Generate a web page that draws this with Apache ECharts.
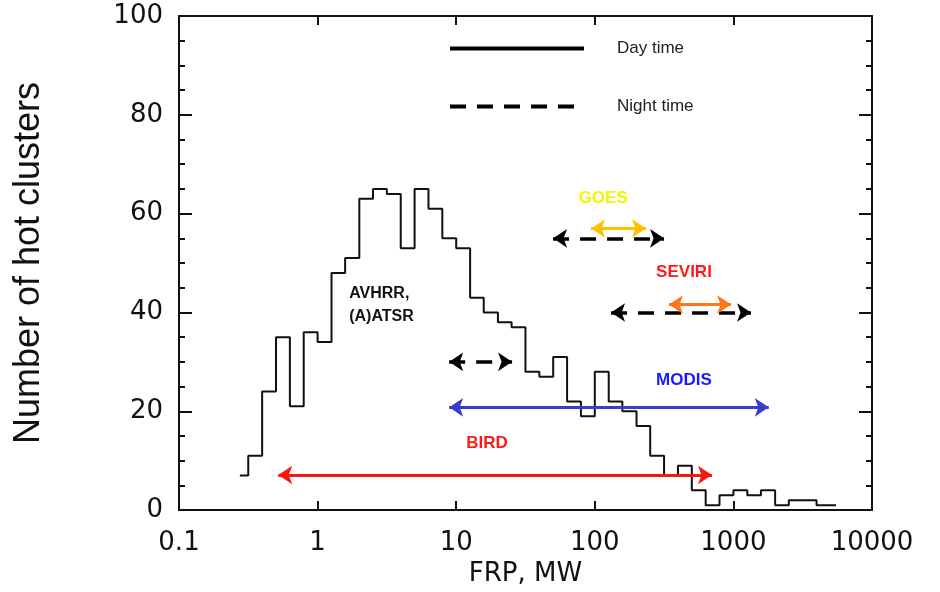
<!DOCTYPE html>
<html>
<head>
<meta charset="utf-8">
<script src="https://cdn.jsdelivr.net/npm/echarts@6/dist/echarts.min.js"></script>
<style>
  html, body { margin: 0; padding: 0; background: #fff; }
  #chart { width: 940px; height: 592px; }
</style>
</head>
<body>
<div id="chart"></div>
<script>
// histogram of hot clusters: left bin edges (MW) + last right edge, counts per bin
const binEdges = [0.275, 0.316, 0.398, 0.501, 0.631, 0.794, 1.00, 1.26, 1.58, 2.00, 2.51, 3.16, 3.98, 5.01, 6.31, 7.94,
    10.0, 12.6, 15.8, 20.0, 25.1, 31.6, 39.8, 50.1, 63.1, 79.4, 100, 126, 158, 200, 251, 316, 398, 501, 631, 794,
    1000, 1260, 1580, 2000, 2510, 3980, 5500];
const counts = [7, 11, 24, 35, 21, 36, 34, 48, 51, 63, 65, 64, 53, 65, 61, 55, 53, 43, 40, 38, 37, 28, 27, 31, 22, 19,
    28, 22, 20, 17, 11, 7, 9, 4, 1, 3, 4, 3, 4, 1, 2, 1];

// sensor detection ranges (MW), drawn as arrows at a given count level
const rangeSensor = ['GOES', 'GOES', 'SEVIRI', 'SEVIRI', 'AVHRR', 'MODIS', 'BIRD'];
const rangeTime = ['day', 'night', 'day', 'night', 'night', 'day', 'day'];
const rangeFrom = [94, 50, 343, 131, 8.9, 8.9, 0.52];
const rangeTo = [234, 316, 962, 1340, 25.3, 1800, 700];
const rangeLevel = [57, 55, 41.6, 40, 30, 20.8, 7.1];

// sensor names and where they are written
const labelText = ['AVHRR,\n(A)ATSR', 'GOES', 'SEVIRI', 'MODIS', 'BIRD'];
const labelX = [1.69, 115, 440, 440, 16.7];
const labelY = [41.4, 63.2, 48.1, 26.3, 13.5];

const xTickLabels = ['0.1', '1', '10', '100', '1000', '10000'];
const yTickLabels = ['0', '20', '40', '60', '80', '100'];

const timeNames = { day: 'Day time', night: 'Night time' };

// styles
const arrowColor = { GOES: '#ffc000', SEVIRI: '#ff7618', MODIS: '#3b3bcf', BIRD: '#ff1414', AVHRR: '#000' };
const textColor = { 'AVHRR,\n(A)ATSR': '#111', GOES: '#f5f500', SEVIRI: '#ff1a1a', MODIS: '#1a1aff', BIRD: '#ff1a1a' };
const dash = [16, 11];
const axisColor = '#111';
const tickFont = 'DejaVu Sans';

let chart = echarts.init(document.getElementById('chart'));

let histData = binEdges.map(function (e, i) {
    return [e, counts[Math.min(i, counts.length - 1)]];
});

let series = [
    {
        type: 'line',
        step: 'end',
        data: histData,
        symbol: 'none',
        lineStyle: { color: '#111', width: 2 },
        silent: true,
        z: 3
    },
    { name: 'Day time', type: 'line', data: [], symbol: 'none', lineStyle: { color: '#000', width: 4 } },
    { name: 'Night time', type: 'line', data: [], symbol: 'none', lineStyle: { color: '#000', width: 4, type: dash } }
];

rangeSensor.forEach(function (s, i) {
    let night = rangeTime[i] === 'night';
    series.push({
        type: 'lines',
        coordinateSystem: 'cartesian2d',
        symbol: ['arrow', 'arrow'],
        symbolSize: 14,
        silent: true,
        z: night ? 4 : 5,
        lineStyle: {
            color: night ? '#000' : arrowColor[s],
            width: night ? 3.5 : 3,
            type: night ? dash : 'solid',
            opacity: 1,
            curveness: 0
        },
        data: [{ coords: [[rangeFrom[i], rangeLevel[i]], [rangeTo[i], rangeLevel[i]]] }]
    });
});

series.push({
    type: 'scatter',
    symbolSize: 0,
    silent: true,
    z: 6,
    itemStyle: { opacity: 1 },
    label: {
        show: true,
        position: 'inside',
        formatter: '{b}',
        fontFamily: 'Liberation Sans',
        fontWeight: 'bold',
        fontSize: 17,
        opacity: 1
    },
    data: labelText.map(function (t, i) {
        let first = i === 0;
        return {
            name: t,
            value: [labelX[i], labelY[i]],
            label: first
                ? { color: textColor[t], align: 'left', fontSize: 16, lineHeight: 23 }
                : { color: textColor[t], align: 'center' }
        };
    })
});

let tickLine = { lineStyle: { color: axisColor, width: 2 } };

let option = {
    animation: false,
    backgroundColor: '#fff',
    grid: { left: 179, right: 68, top: 16, bottom: 81 },
    legend: {
        data: [
            { name: timeNames.day, lineStyle: { color: '#000', width: 4, type: 'solid' } },
            { name: timeNames.night, lineStyle: { color: '#000', width: 4, type: dash } }
        ],
        orient: 'vertical',
        left: 443,
        top: 35,
        itemWidth: 134,
        itemHeight: 14,
        itemGap: 41,
        itemStyle: { opacity: 0 },
        selectedMode: false,
        textStyle: { fontFamily: 'Liberation Sans', fontSize: 17, color: '#222', padding: [0, 0, 0, 28] }
    },
    xAxis: [
        {
            type: 'log',
            logBase: 10,
            min: 0.1,
            max: 10000,
            position: 'bottom',
            name: 'FRP, MW',
            nameLocation: 'middle',
            nameGap: 41,
            nameTextStyle: { fontFamily: tickFont, fontSize: 26, color: axisColor },
            axisLine: { onZero: false, lineStyle: { color: axisColor, width: 2 } },
            axisTick: Object.assign({ inside: true, length: 9 }, tickLine),
            axisLabel: {
                fontFamily: tickFont, fontSize: 26, color: axisColor, margin: 20,
                formatter: function (v, i) { return xTickLabels[i]; }
            },
            splitLine: { show: false }
        },
        {
            type: 'log',
            logBase: 10,
            min: 0.1,
            max: 10000,
            position: 'top',
            axisLine: { onZero: false, lineStyle: { color: axisColor, width: 2 } },
            axisTick: Object.assign({ inside: true, length: 9 }, tickLine),
            axisLabel: { show: false },
            splitLine: { show: false }
        }
    ],
    yAxis: [
        {
            type: 'value',
            min: 0,
            max: 100,
            interval: 20,
            position: 'left',
            name: 'Number of hot clusters',
            nameLocation: 'middle',
            nameGap: 132,
            nameTextStyle: { fontFamily: 'Liberation Sans', fontSize: 36, color: axisColor },
            axisLine: { show: true, onZero: false, lineStyle: { color: axisColor, width: 2 } },
            axisTick: Object.assign({ show: true, inside: true, length: 13 }, tickLine),
            minorTick: Object.assign({ show: true, splitNumber: 4, length: 6 }, tickLine),
            axisLabel: {
                fontFamily: tickFont, fontSize: 26, color: axisColor, margin: 16,
                formatter: function (v, i) { return yTickLabels[i]; }
            },
            splitLine: { show: false }
        },
        {
            type: 'value',
            min: 0,
            max: 100,
            interval: 20,
            position: 'right',
            axisLine: { show: true, onZero: false, lineStyle: { color: axisColor, width: 2 } },
            axisTick: Object.assign({ show: true, inside: true, length: 13 }, tickLine),
            minorTick: Object.assign({ show: true, splitNumber: 4, length: 6 }, tickLine),
            axisLabel: { show: false },
            splitLine: { show: false }
        }
    ],
    series: series
};

chart.setOption(option);
</script>
</body>
</html>
